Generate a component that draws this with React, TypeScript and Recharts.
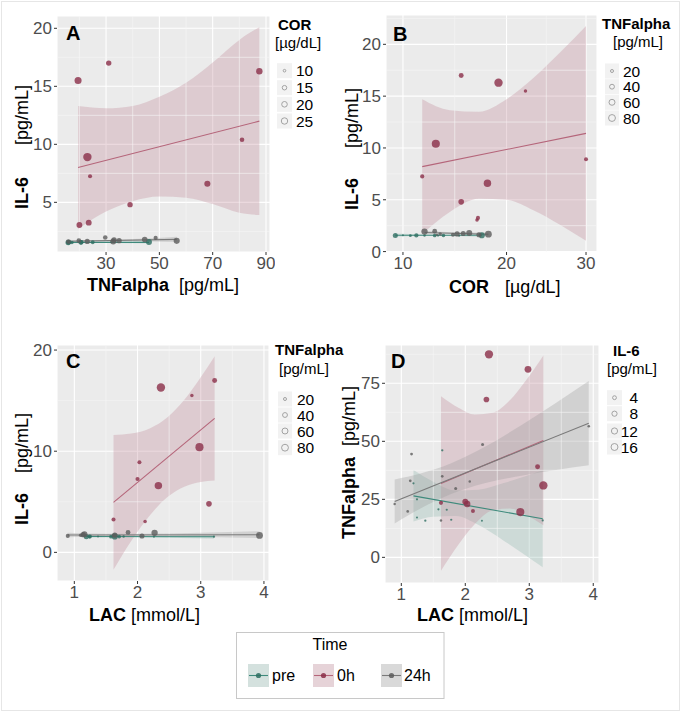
import React from "react";
import {
  ComposedChart,
  Scatter,
  Line,
  Area,
  XAxis,
  YAxis,
  CartesianGrid,
  ReferenceLine,
} from "recharts";

const FONT = '"Liberation Sans", Arial, Helvetica, sans-serif';

const TIMES = ["pre", "0h", "24h"];
const POINT_COLOR: Record<string, string> = { pre: "#2E6E62", "0h": "#8B2E48", "24h": "#5C5C5C" };
const LINE_COLOR: Record<string, string> = { pre: "#3E8A7C", "0h": "#B5657A", "24h": "#7A7A7A" };
const BAND_COLOR: Record<string, string> = { pre: "#8FB8AE", "0h": "#C08A98", "24h": "#9A9A9A" };
const KEY_FILL: Record<string, string> = { pre: "#D4E1DE", "0h": "#E6D3D8", "24h": "#D9D9D9" };

// subject values per time point
const preTNF = [31.9, 25.0, 17.2, 15.8, 20.7, 46.1, 20.5, 16.2, 15.8, 15.9];
const preCOR = [9.4, 11.1, 10.6, 10.0, 12.7, 17.3, 13.5, 11.8, 15.0, 13.0];
const preIL6 = [1.55, 1.56, 1.54, 1.57, 1.55, 1.58, 1.55, 1.56, 1.54, 1.55];
const preLAC = [1.19, 1.245, 1.245, 1.375, 1.58, 1.64, 1.71, 1.78, 2.26, 3.21];

const h0TNF = [19.5, 31.0, 87.5, 23.0, 24.0, 39.0, 68.0, 81.0, 20.0, 23.5];
const h0COR = [22.2, 15.2, 19.1, 30.0, 11.6, 15.2, 17.9, 12.8, 16.8, 16.9];
const h0IL6 = [15.5, 17.0, 16.3, 8.9, 7.25, 4.8, 6.6, 10.4, 3.05, 3.25];
const h0LAC = [2.86, 3.22, 2.37, 2.03, 2.0, 3.13, 2.33, 2.98, 2.12, 1.62];

const h24TNF = [22.95, 19.8, 33.0, 44.5, 15.9, 34.9, 29.7, 32.7, 48.6, 56.5];
const h24COR = [14.4, 13.2, 15.4, 16.0, 12.9, 14.8, 12.7, 17.0, 11.8, 18.0];
const h24IL6 = [1.63, 1.7, 1.75, 1.8, 1.62, 1.7, 1.97, 1.62, 1.93, 1.68];
const h24LAC = [0.896, 1.1, 1.14, 1.16, 1.62, 1.64, 1.85, 2.07, 2.27, 3.93];

// fitted lines [x, y] and confidence bands [x, low, high]
const fitApre = [[15.8, 1.55], [46.1, 1.55]];
const fitA0h = [[19.5, 8.0], [87.5, 12.0]];
const fitA24 = [[15.9, 1.64], [56.5, 1.81]];
const bandApre = [[15.8, 1.47, 1.63], [30, 1.5, 1.6], [46.1, 1.45, 1.65]];
const bandA0h = [[19.5, 2.7, 13.3], [30, 4.2, 13.1], [40, 5.1, 13.3], [50, 5.5, 14.1], [60, 5.4, 15.3], [70, 4.85, 17.05], [80, 4.1, 19.0], [87.5, 3.9, 20.1]];
const bandA24 = [[15.9, 1.52, 1.76], [25, 1.6, 1.75], [35, 1.64, 1.8], [45, 1.63, 1.88], [56.5, 1.58, 2.04]];

const fitBpre = [[9.4, 1.58], [17.3, 1.57]];
const fitB0h = [[11.6, 8.2], [30.0, 11.41]];
const fitB24 = [[11.8, 1.84], [18.0, 1.67]];
const bandBpre = [[9.4, 1.42, 1.74], [13, 1.52, 1.63], [17.3, 1.4, 1.75]];
const bandB0h = [[11.6, 1.7, 14.7], [14.1, 3.83, 13.65], [17, 5.1, 13.5], [20, 5.0, 14.7], [23.15, 4.0, 16.75], [26.5, 2.6, 19.2], [30, 1.04, 21.78]];
const bandB24 = [[11.8, 1.68, 2.0], [14.5, 1.7, 1.86], [18, 1.5, 1.84]];

const fitCpre = [[1.19, 1.57], [3.21, 1.55]];
const fitC0h = [[1.62, 4.94], [3.22, 13.25]];
const fitC24 = [[0.896, 1.72], [3.93, 1.74]];
const bandCpre = [[1.19, 1.45, 1.69], [1.8, 1.5, 1.62], [3.21, 1.35, 1.75]];
const bandC0h = [[1.62, -1.73, 11.61], [1.9, 1.13, 11.75], [2.2, 3.7, 12.28], [2.47, 5.44, 13.34], [2.75, 6.51, 15.17], [3.0, 6.95, 17.31], [3.22, 7.1, 19.4]];
const bandC24 = [[0.896, 1.5, 1.95], [1.5, 1.6, 1.85], [2.0, 1.62, 1.85], [3.0, 1.55, 1.95], [3.93, 1.4, 2.1]];

const fitDpre = [[1.19, 26.5], [3.21, 16.6]];
const fitD0h = [[1.62, 31.85], [3.22, 50.36]];
const fitD24 = [[0.896, 24.1], [3.93, 57.8]];
const bandDpre = [[1.19, 15.4, 37.6], [1.5, 17.5, 32.6], [1.85, 17.8, 28.8], [2.2, 14.0, 29.1], [2.6, 7.2, 32.0], [3.21, -4.3, 37.5]];
const bandD0h = [[1.62, -5.75, 69.45], [1.9, 5.8, 64.4], [2.15, 14.4, 61.6], [2.43, 20.3, 62.3], [2.7, 21.0, 67.8], [2.95, 18.3, 76.3], [3.22, 13.8, 87.0]];
const bandD24 = [[0.896, 14.6, 33.6], [1.3, 21.06, 36.1], [1.77, 27.2, 40.4], [2.3, 31.9, 47.5], [2.9, 35.3, 57.4], [3.93, 39.65, 75.95]];

// size legends
const legendCOR = [10, 15, 20, 25];
const legendTNF = [20, 40, 60, 80];
const legendIL6 = [4, 8, 12, 16];

const pts = (xs: number[], ys: number[], ss: number[]) => xs.map((x, i) => ({ x, y: ys[i], s: ss[i] }));
const toLine = (a: number[][]) => a.map(([x, y]) => ({ x, y }));
const toBand = (a: number[][]) => a.map(([x, lo, hi]) => ({ x, range: [lo, hi] }));

const makeRad = (min: number, max: number) => (v: number) =>
  1.0 + 3.2 * Math.sqrt(Math.max(0, Math.min(1, (v - min) / (max - min))));

const radA = makeRad(9.4, 30);
const radTNF = makeRad(15.8, 87.5);
const radD = makeRad(1.54, 17);

type Group = { t: string; points: any[]; fit: number[][]; band: number[][] };

function Panel(props: any) {
  const { left, top, width, height, margin, yWidth, xHeight, xDomain, yDomain, xTicks, yTicks, xMinor, yMinor, xScale, groups, rad } = props;
  const tickStyle = { fontSize: 17, fill: "#4D4D4D" };
  return (
    <div style={{ position: "absolute", left, top }}>
      <ComposedChart width={width} height={height} margin={margin}>
        <CartesianGrid stroke="#FFFFFF" strokeWidth={1.1} fill="#EBEBEB" />
        {xMinor.map((v: number) => (
          <ReferenceLine key={"mx" + v} x={v} stroke="#F6F6F6" strokeWidth={0.6} />
        ))}
        {yMinor.map((v: number) => (
          <ReferenceLine key={"my" + v} y={v} stroke="#F6F6F6" strokeWidth={0.6} />
        ))}
        <XAxis
          type="number"
          dataKey="x"
          scale={xScale || "linear"}
          domain={xDomain}
          ticks={xTicks}
          allowDataOverflow
          interval={0}
          height={xHeight}
          axisLine={false}
          tickSize={3}
          tickMargin={2}
          tickLine={{ stroke: "#333333" }}
          tick={tickStyle}
        />
        <YAxis
          type="number"
          dataKey="y"
          domain={yDomain}
          ticks={yTicks}
          allowDataOverflow
          interval={0}
          width={yWidth}
          axisLine={false}
          tickSize={3}
          tickMargin={2}
          tickLine={{ stroke: "#333333" }}
          tick={tickStyle}
        />
        {groups.map((g: Group) => (
          <Area
            key={"b" + g.t}
            data={toBand(g.band)}
            dataKey="range"
            type="monotone"
            fill={BAND_COLOR[g.t]}
            fillOpacity={0.32}
            stroke="none"
            isAnimationActive={false}
          />
        ))}
        {groups.map((g: Group) => (
          <Line
            key={"l" + g.t}
            data={toLine(g.fit)}
            dataKey="y"
            type="linear"
            stroke={LINE_COLOR[g.t]}
            strokeWidth={1.1}
            dot={false}
            isAnimationActive={false}
          />
        ))}
        {groups.map((g: Group) => (
          <Scatter
            key={"p" + g.t}
            data={g.points}
            isAnimationActive={false}
            shape={(p: any) => (
              <circle cx={p.cx} cy={p.cy} r={rad(p.payload.s)} fill={POINT_COLOR[g.t]} fillOpacity={0.8} />
            )}
          />
        ))}
      </ComposedChart>
    </div>
  );
}

function SizeLegend({ title, unit, titleX, unitX, titleY, unitY, keyX, keyW, rows, values, rad, labelX, anchor }: any) {
  return (
    <g>
      <text x={titleX} y={titleY} fontSize={15} fontWeight="bold" fill="#000">{title}</text>
      <text x={unitX} y={unitY} fontSize={15} fill="#000">{unit}</text>
      {values.map((v: number, i: number) => (
        <g key={v}>
          <rect x={keyX} y={rows[i] - 7.5} width={keyW} height={15} fill="#F2F2F2" />
          <circle cx={keyX + keyW / 2} cy={rows[i]} r={rad(v) * 0.85} fill="none" stroke="#9A9A9A" strokeWidth={0.9} />
          <text x={labelX} y={rows[i] + 5.5} fontSize={15.5} fill="#000" textAnchor={anchor || "start"}>{v}</text>
        </g>
      ))}
    </g>
  );
}

function AxisTitleX({ x, y, name, unit, gap }: any) {
  return (
    <text x={x} y={y} fontSize={18} fill="#000">
      <tspan fontWeight="bold">{name}</tspan>
      <tspan dx={gap}>{unit}</tspan>
    </text>
  );
}

function AxisTitleY({ x, nameY, unitY, name, unit }: any) {
  return (
    <g>
      <text transform={`translate(${x},${nameY}) rotate(-90)`} textAnchor="middle" fontSize={18} fontWeight="bold" fill="#000">{name}</text>
      <text transform={`translate(${x},${unitY}) rotate(-90)`} textAnchor="middle" fontSize={18} fill="#000">{unit}</text>
    </g>
  );
}

export default function App() {
  const groupsA: Group[] = [
    { t: "pre", points: pts(preTNF, preIL6, preCOR), fit: fitApre, band: bandApre },
    { t: "0h", points: pts(h0TNF, h0IL6, h0COR), fit: fitA0h, band: bandA0h },
    { t: "24h", points: pts(h24TNF, h24IL6, h24COR), fit: fitA24, band: bandA24 },
  ];
  const groupsB: Group[] = [
    { t: "pre", points: pts(preCOR, preIL6, preTNF), fit: fitBpre, band: bandBpre },
    { t: "0h", points: pts(h0COR, h0IL6, h0TNF), fit: fitB0h, band: bandB0h },
    { t: "24h", points: pts(h24COR, h24IL6, h24TNF), fit: fitB24, band: bandB24 },
  ];
  const groupsC: Group[] = [
    { t: "pre", points: pts(preLAC, preIL6, preTNF), fit: fitCpre, band: bandCpre },
    { t: "0h", points: pts(h0LAC, h0IL6, h0TNF), fit: fitC0h, band: bandC0h },
    { t: "24h", points: pts(h24LAC, h24IL6, h24TNF), fit: fitC24, band: bandC24 },
  ];
  const groupsD: Group[] = [
    { t: "pre", points: pts(preLAC, preTNF, preIL6), fit: fitDpre, band: bandDpre },
    { t: "0h", points: pts(h0LAC, h0TNF, h0IL6), fit: fitD0h, band: bandD0h },
    { t: "24h", points: pts(h24LAC, h24TNF, h24IL6), fit: fitD24, band: bandD24 },
  ];

  const keyXs = [248, 313, 381];
  const labelXs = [272, 337, 404];

  return (
    <div style={{ position: "absolute", left: 0, top: 0, width: 685, height: 713, background: "#FFFFFF", fontFamily: FONT }}>
      <Panel
        left={0} top={0} width={275} height={300}
        margin={{ top: 16, right: 5, left: 0, bottom: 0 }}
        yWidth={57} xHeight={48}
        xDomain={[11.6, 91.5]} yDomain={[0.72, 21.06]}
        xTicks={[30, 50, 70, 90]} yTicks={[5, 10, 15, 20]}
        xMinor={[20, 40, 60, 80]} yMinor={[2.5, 7.5, 12.5, 17.5]}
        groups={groupsA} rad={radA}
      />
      <Panel
        left={330} top={0} width={275} height={300}
        margin={{ top: 15, right: 8, left: 0, bottom: 0 }}
        yWidth={56} xHeight={48}
        xScale="sqrt"
        xDomain={[8.69, 31.54]} yDomain={[-0.04, 22.83]}
        xTicks={[10, 20, 30]} yTicks={[0, 5, 10, 15, 20]}
        xMinor={[14.57, 24.75]} yMinor={[2.5, 7.5, 12.5, 17.5, 22.5]}
        groups={groupsB} rad={radTNF}
      />
      <Panel
        left={0} top={300} width={275} height={320}
        margin={{ top: 45, right: 6, left: 0, bottom: 0 }}
        yWidth={57} xHeight={39}
        xDomain={[0.726, 4.08]} yDomain={[-2.83, 20.5]}
        xTicks={[1, 2, 3, 4]} yTicks={[0, 10, 20]}
        xMinor={[1.5, 2.5, 3.5]} yMinor={[5, 15]}
        groups={groupsC} rad={radTNF}
      />
      <Panel
        left={330} top={300} width={275} height={320}
        margin={{ top: 45, right: 6, left: 0, bottom: 0 }}
        yWidth={55} xHeight={37}
        xDomain={[0.745, 4.09]} yDomain={[-11.05, 91.5]}
        xTicks={[1, 2, 3, 4]} yTicks={[0, 25, 50, 75]}
        xMinor={[1.5, 2.5, 3.5]} yMinor={[-12.5, 12.5, 37.5, 62.5, 87.5]}
        groups={groupsD} rad={radD}
      />

      <svg width={685} height={713} style={{ position: "absolute", left: 0, top: 0, pointerEvents: "none", fontFamily: FONT }}>
        <rect x={1.5} y={1.5} width={678} height={709} fill="none" stroke="#E6E6E6" strokeWidth={1} />

        <text x={66} y={40} fontSize={20} fontWeight="bold">A</text>
        <text x={393} y={41} fontSize={20} fontWeight="bold">B</text>
        <text x={66} y={368} fontSize={20} fontWeight="bold">C</text>
        <text x={391} y={368} fontSize={20} fontWeight="bold">D</text>

        <AxisTitleX x={87} y={291} name="TNFalpha" unit="[pg/mL]" gap={10} />
        <AxisTitleX x={449} y={293} name="COR" unit="[µg/dL]" gap={16} />
        <AxisTitleX x={89} y={621} name="LAC" unit="[mmol/L]" gap={5} />
        <AxisTitleX x={417} y={621} name="LAC" unit="[mmol/L]" gap={5} />

        <AxisTitleY x={28} nameY={193} unitY={115} name="IL-6" unit="[pg/mL]" />
        <AxisTitleY x={358} nameY={194} unitY={118} name="IL-6" unit="[pg/mL]" />
        <AxisTitleY x={28} nameY={509} unitY={443} name="IL-6" unit="[pg/mL]" />
        <AxisTitleY x={355} nameY={498} unitY={416} name="TNFalpha" unit="[pg/mL]" />

        <SizeLegend title="COR" unit="[µg/dL]" titleX={278} titleY={30} unitX={275} unitY={48}
          keyX={277} keyW={15} rows={[70.7, 87.7, 104.3, 121]} values={legendCOR} rad={radA} labelX={296} />
        <SizeLegend title="TNFalpha" unit="[pg/mL]" titleX={602} titleY={29} unitX={613} unitY={47}
          keyX={605} keyW={14} rows={[71, 86.7, 102.3, 118]} values={legendTNF} rad={radTNF} labelX={623} />
        <SizeLegend title="TNFalpha" unit="[pg/mL]" titleX={275} titleY={355} unitX={279} unitY={374}
          keyX={278} keyW={14} rows={[399, 415, 431, 447.7]} values={legendTNF} rad={radTNF} labelX={297} />
        <SizeLegend title="IL-6" unit="[pg/mL]" titleX={613} titleY={356} unitX={607} unitY={374}
          keyX={607} keyW={15} rows={[397.7, 413.7, 431, 447]} values={legendIL6} rad={radD} labelX={638} anchor="end" />

        <rect x={236.5} y={632.5} width={207.5} height={66} fill="#FFFFFF" stroke="#C8C8C8" strokeWidth={1} />
        <text x={330} y={650} fontSize={16} textAnchor="middle">Time</text>
        {TIMES.map((t, i) => (
          <g key={t}>
            <rect x={keyXs[i]} y={664} width={21} height={23} fill={KEY_FILL[t]} />
            <line x1={keyXs[i] + 1} x2={keyXs[i] + 20} y1={675.5} y2={675.5} stroke={LINE_COLOR[t]} strokeWidth={1.1} />
            <circle cx={keyXs[i] + 10.5} cy={675.5} r={2.6} fill={POINT_COLOR[t]} fillOpacity={0.85} />
            <text x={labelXs[i]} y={681} fontSize={16}>{t}</text>
          </g>
        ))}
      </svg>
    </div>
  );
}
